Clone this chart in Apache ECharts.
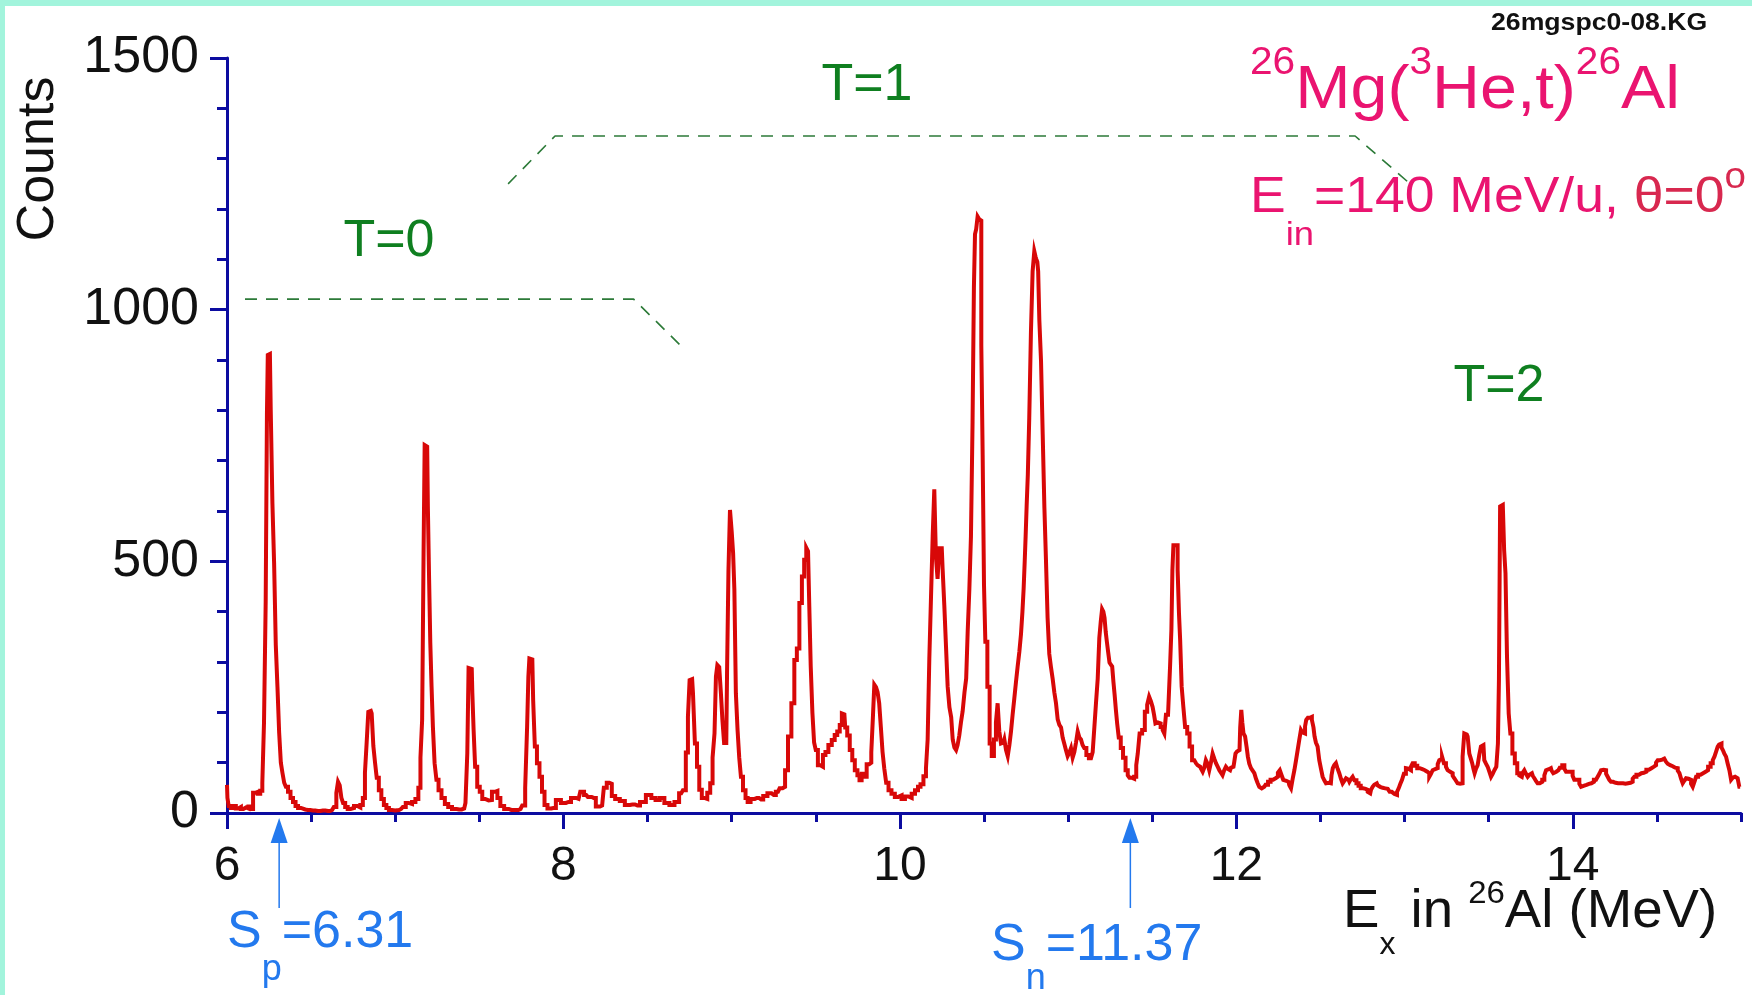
<!DOCTYPE html>
<html>
<head>
<meta charset="utf-8">
<title>26Mg(3He,t)26Al spectrum</title>
<script src="https://cdn.jsdelivr.net/npm/echarts@6/dist/echarts.min.js"></script>
<style>
  html, body { margin: 0; padding: 0; background: #ffffff; }
  #chart { position: absolute; left: 0; top: 0; width: 1752px; height: 995px; }
</style>
</head>
<body>
<div id="chart"></div>
<script>
// ---- Spectrum: [excitation energy (MeV), counts] ----
const spectrumLow = [
  [6.000,56],[6.005,30],[6.015,14],[6.030,10],[6.045,14],[6.060,9],[6.075,12],[6.090,8],[6.105,11],[6.120,9],[6.135,13],[6.150,8],
  [6.160,40],[6.175,42],[6.190,38],[6.205,44],[6.215,60],
  [6.225,180],[6.235,420],[6.240,795],[6.245,910],[6.255,912],[6.265,800],[6.275,615],[6.285,497],[6.295,334],[6.305,250],[6.315,160],
  [6.325,100],[6.335,79],[6.345,60],[6.355,52],[6.370,42],[6.385,30],[6.400,22],[6.415,14],[6.430,10],[6.450,7],[6.480,6],[6.510,5],
  [6.540,4],[6.570,5],[6.600,4],[6.625,6],[6.645,12],
  [6.655,40],[6.665,62],[6.675,55],[6.685,30],[6.695,20],[6.710,12],[6.725,8],[6.745,10],[6.765,14],[6.785,11],[6.800,16],[6.815,30],
  [6.825,80],[6.835,139],[6.845,201],[6.855,203],[6.865,198],[6.875,133],[6.885,100],[6.895,70],[6.910,45],[6.925,28],[6.940,16],
  [6.955,10],[6.970,6],[6.990,5],[7.010,6],[7.035,8],[7.055,12],[7.070,20],[7.090,18],[7.110,22],[7.130,28],[7.145,50],
  [7.155,110],[7.165,185],[7.172,516],[7.178,731],[7.190,728],[7.198,609],[7.205,463],[7.212,338],[7.220,251],[7.228,171],[7.240,99],
  [7.250,66],[7.265,45],[7.285,30],[7.305,18],[7.325,12],[7.350,8],[7.380,7],[7.410,9],[7.425,20],
  [7.432,119],[7.440,288],[7.455,286],[7.462,238],[7.470,165],[7.480,92],[7.495,52],[7.510,42],[7.525,28],[7.545,25],[7.565,26],
  [7.585,42],[7.600,44],[7.615,30],[7.635,14],[7.660,8],[7.690,6],[7.720,6],[7.745,8],[7.765,15],[7.780,50],
  [7.788,171],[7.795,271],[7.800,307],[7.815,305],[7.825,224],[7.835,132],[7.850,99],[7.865,72],[7.880,42],[7.895,16],[7.915,9],
  [7.940,10],[7.970,26]
];

const spectrumMid = [
  [8.000,20],[8.030,22],[8.060,30],[8.090,28],[8.110,42],[8.135,36],[8.155,32],[8.180,30],[8.205,13],[8.230,15],
  [8.250,50],[8.265,60],[8.280,58],[8.295,34],[8.320,28],[8.350,24],[8.380,16],[8.410,17],[8.440,15],[8.470,22],[8.510,36],
  [8.535,30],[8.560,26],[8.585,30],[8.615,20],[8.645,16],[8.675,22],[8.700,39],[8.720,45],[8.735,120],
  [8.745,191],[8.755,264],[8.765,266],[8.775,238],[8.788,138],[8.800,92],[8.815,46],[8.830,30],[8.845,28],[8.865,40],[8.880,59],
  [8.893,110],[8.903,158],[8.910,271],[8.920,294],[8.932,290],[8.940,238],[8.950,185],[8.960,139],[8.968,139],[8.977,278],
  [8.985,483],[8.995,602],[9.005,560],[9.012,517],[9.020,445],[9.030,238],[9.040,165],[9.050,110],[9.060,72],[9.075,45],[9.090,30],
  [9.100,22],[9.125,28],[9.150,30],[9.175,27],[9.200,34],[9.225,39],[9.250,36],[9.275,42],[9.295,49],[9.310,52],[9.325,85],
  [9.345,152],[9.365,218],[9.380,304],[9.395,327],[9.410,417],[9.425,470],[9.437,503],[9.450,527],[9.458,520],[9.465,410],
  [9.475,291],[9.485,199],[9.495,140],[9.505,125],[9.520,95],[9.535,92],
  [9.550,115],[9.565,121],[9.585,135],[9.605,145],[9.620,155],[9.635,162],[9.650,175],[9.660,198],[9.670,196],[9.680,170],
  [9.694,154],[9.710,125],[9.724,105],[9.740,85],[9.755,75],[9.765,65],[9.780,78],[9.795,72],[9.810,97],[9.825,100],[9.835,121],
  [9.843,186],[9.853,255],[9.863,250],[9.872,240],[9.882,218],[9.892,170],[9.902,121],[9.912,89],[9.925,60],[9.940,45],[9.960,38],
  [9.980,32]
];

const spectrumHigh = [
  [10.000,35],[10.020,28],[10.040,33],[10.060,30],[10.080,38],[10.100,45],[10.115,52],[10.130,57],[10.150,73],[10.160,89],
  [10.170,146],[10.180,307],[10.190,429],[10.200,550],[10.209,643],[10.219,510],[10.229,465],[10.239,526],[10.249,526],[10.259,485],
  [10.269,413],[10.279,332],[10.289,251],[10.300,210],[10.310,190],[10.318,146],[10.330,130],[10.338,125],[10.348,135],[10.358,154],
  [10.368,180],[10.378,202],[10.390,240],[10.398,267],[10.408,360],[10.418,445],[10.427,550],[10.437,777],[10.443,1044],[10.450,1150],
  [10.457,1160],[10.467,1185],[10.475,1180],[10.481,1177],[10.487,930],[10.497,712],[10.503,453],[10.513,340],[10.527,251],[10.540,138],
  [10.552,113],[10.566,146],[10.576,180],[10.586,218],[10.596,162],[10.606,138],[10.616,140],[10.626,146],[10.636,125],[10.646,113],
  [10.656,135],[10.665,162],[10.675,195],[10.685,227],[10.695,260],[10.705,291],[10.715,320],[10.725,356],[10.732,400],[10.739,445],
  [10.745,500],[10.750,550],[10.757,610],[10.764,672],[10.774,785],[10.784,955],[10.794,1076],[10.804,1116],[10.809,1105],[10.814,1100],
  [10.820,1095],[10.824,1076],[10.834,979],[10.844,898],[10.854,752],[10.864,607],[10.873,501],[10.883,388],[10.893,316],[10.903,290],
  [10.913,267],[10.923,240],[10.933,218],[10.943,186],[10.953,175],[10.963,170],[10.972,150],[10.982,138],[10.992,125],[11.002,113],
  [11.012,120],[11.022,129],[11.032,110],[11.042,121],[11.052,140],[11.062,162],[11.072,150],[11.081,146],[11.091,135],[11.101,129],
  [11.116,115],[11.131,109],[11.141,112],[11.151,121],[11.161,170],[11.171,220],[11.181,267],[11.190,348],[11.198,380],[11.206,405],
  [11.213,400],[11.220,388],[11.227,360],[11.234,340],[11.242,320],[11.250,299],[11.258,295],[11.266,291],[11.273,260],[11.280,235],
  [11.288,205],[11.295,178],[11.307,150],[11.319,129],[11.334,110],[11.349,85],[11.360,75],[11.370,70],[11.385,68],[11.400,72],
  [11.410,95],[11.418,118],[11.432,158],[11.448,165],[11.464,201],[11.476,215],[11.487,231],[11.497,222],[11.507,211],[11.515,195],
  [11.523,178],[11.533,180],[11.543,178],[11.557,171],[11.567,165],[11.577,158],[11.586,195],[11.602,198],[11.610,291],[11.618,364],
  [11.622,483],[11.630,532],[11.646,532],[11.656,483],[11.662,397],[11.670,344],[11.680,251],[11.690,211],[11.701,171],[11.715,158],
  [11.729,132],[11.745,105],[11.755,102],[11.765,99],[11.775,95],[11.785,92],[11.795,88],[11.805,82],[11.814,90],[11.824,105],
  [11.834,98],[11.844,85],[11.854,100],[11.864,118],[11.874,108],[11.884,99],[11.894,92],[11.904,85],[11.913,80],[11.923,75],
  [11.933,85],[11.943,92],[11.953,88],[11.963,85],[11.973,90],[11.983,92],[11.991,100]
];

const spectrumTail = [
  [11.999,118],[12.009,122],[12.019,125],[12.027,170],[12.032,205],[12.039,180],[12.046,158],[12.058,152],[12.065,130],[12.072,112],
  [12.082,98],[12.092,89],[12.102,84],[12.112,79],[12.122,68],[12.132,59],[12.141,52],[12.151,49],[12.166,52],[12.181,56],
  [12.196,62],[12.211,66],[12.226,69],[12.241,72],[12.253,80],[12.264,85],[12.274,75],[12.284,66],[12.297,64],[12.310,62],
  [12.320,55],[12.330,49],[12.340,68],[12.350,85],[12.360,105],[12.369,125],[12.379,145],[12.389,165],[12.397,160],[12.405,158],
  [12.412,172],[12.419,185],[12.431,189],[12.443,191],[12.455,185],[12.462,170],[12.468,152],[12.478,140],[12.488,132],[12.498,105],
  [12.508,88],[12.518,72],[12.528,65],[12.538,59],[12.550,60],[12.562,59],[12.570,75],[12.577,89],[12.587,95],[12.597,99],
  [12.607,88],[12.617,79],[12.627,68],[12.637,59],[12.647,64],[12.657,69],[12.667,66],[12.677,62],[12.687,68],[12.696,72],
  [12.708,65],[12.720,59],[12.733,54],[12.746,49],[12.761,48],[12.776,46],[12.786,42],[12.796,39],[12.805,46],[12.815,52],
  [12.825,56],[12.835,59],[12.845,55],[12.855,52],[12.870,50],[12.885,49],[12.895,48],[12.905,46],[12.918,42],[12.930,39],
  [12.940,38],[12.950,36],[12.960,42],[12.970,49],[12.980,58],[12.990,66],[13.002,78],[13.014,89],[13.024,88],[13.033,85],
  [13.043,92],[13.053,99],[13.068,94],[13.083,89],[13.098,87],[13.113,85],[13.128,82],[13.142,79],[13.152,72],[13.162,78],
  [13.172,85],[13.182,87],[13.192,89],[13.202,97],[13.211,105],[13.219,108],[13.227,112],[13.241,99],[13.251,92],[13.261,85],
  [13.271,82],[13.281,79],[13.291,74],[13.301,69],[13.310,64],[13.320,59],[13.330,58],[13.340,59],[13.350,112],[13.360,158],
  [13.370,156],[13.380,152],[13.390,118],[13.398,108],[13.406,99],[13.413,88],[13.420,79],[13.430,88],[13.439,95],[13.449,115],
  [13.459,132],[13.469,135],[13.479,105],[13.489,98],[13.499,92],[13.509,82],[13.519,72],[13.529,78],[13.539,85],[13.552,92],
  [13.558,138],[13.564,264],[13.572,609],[13.580,612],[13.588,609],[13.596,522],[13.604,476],[13.614,311],[13.624,198],[13.634,158],
  [13.648,118],[13.663,99],[13.677,79],[13.687,75],[13.697,72],[13.707,80],[13.717,85],[13.727,78],[13.737,72],[13.747,76],
  [13.757,79],[13.767,74],[13.776,69],[13.786,64],[13.796,59],[13.811,62],[13.826,66],[13.836,75],[13.846,85],[13.858,87],
  [13.870,89],[13.879,84],[13.889,79],[13.902,82],[13.915,85],[13.930,90],[13.945,95],[13.955,88],[13.965,82],[13.980,82],
  [13.994,82],[14.004,74],[14.014,66],[14.024,66],[14.034,66],[14.044,58],[14.054,52],[14.064,54],[14.074,56],[14.089,58],
  [14.103,59],[14.118,62],[14.133,66],[14.143,69],[14.153,72],[14.163,78],[14.173,85],[14.183,86],[14.193,85],[14.203,78],
  [14.212,72],[14.222,66],[14.232,62],[14.247,60],[14.262,59],[14.277,59],[14.292,59],[14.306,58],[14.321,59],[14.336,60],
  [14.351,62],[14.361,68],[14.371,72],[14.386,76],[14.401,79],[14.415,80],[14.430,82],[14.445,86],[14.460,89],[14.475,92],
  [14.490,95],[14.500,100],[14.510,105],[14.525,106],[14.539,108],[14.549,105],[14.559,102],[14.569,98],[14.579,95],[14.589,93],
  [14.599,92],[14.609,90],[14.619,89],[14.629,84],[14.639,79],[14.649,68],[14.658,59],[14.668,64],[14.678,69],[14.688,68],
  [14.698,66],[14.708,58],[14.718,52],[14.728,62],[14.738,72],[14.752,76],[14.767,79],[14.782,82],[14.797,85],[14.812,92],
  [14.827,99],[14.837,105],[14.847,112],[14.857,122],[14.866,132],[14.873,136],[14.880,138],[14.888,130],[14.896,125],[14.906,118],
  [14.916,112],[14.926,98],[14.936,85],[14.946,66],[14.955,70],[14.965,72],[14.975,69],[14.985,66],[14.995,52]
];

// Axis ticks
const xMajorTicks = [6, 8, 10, 12, 14];
const yMajorTicks = [0, 500, 1000, 1500];

// Isospin group brackets, in (MeV, counts)
const bracketT0 = [[6.107, 1021], [8.417, 1021], [8.723, 920]];
const bracketT1 = [[7.671, 1250], [7.950, 1345], [12.706, 1345], [13.033, 1250]];

// Particle separation energies (MeV)
const separationEnergies = [
  { particle: 'p', value: 6.31 },
  { particle: 'n', value: 11.37 }
];

// ---- Drawing ----
const FONT = '"Liberation Sans", Arial, Helvetica, sans-serif';
const AXIS_BLUE = '#0c0ca0';
const SPEC_RED = '#d80808';
const T_GREEN = '#0f7f20';
const S_BLUE = '#2379ee';
const PINK = '#ea1470';
const PINK_DARK = '#d8284f';

const spectrum = spectrumLow.concat(spectrumMid, spectrumHigh, spectrumTail);

const chart = echarts.init(document.getElementById('chart'), null, { renderer: 'canvas' });

const tickStyle = { color: AXIS_BLUE, width: 3 };
const plainNumber = function (v) { return String(v); };

chart.setOption({
  animation: false,
  backgroundColor: '#ffffff',
  grid: { left: 227, right: 11, top: 58, bottom: 182, containLabel: false },
  xAxis: [
    {
      type: 'value', min: 6, max: 15, interval: 0.5, position: 'bottom',
      axisLine: { show: true, onZero: false, lineStyle: { color: AXIS_BLUE, width: 3 } },
      axisTick: { show: true, length: 9, lineStyle: tickStyle },
      axisLabel: { customValues: xMajorTicks, formatter: plainNumber, margin: 30, color: '#111', fontSize: 48, fontFamily: FONT },
      splitLine: { show: false }
    },
    {
      type: 'value', min: 6, max: 15, position: 'bottom',
      axisLine: { show: false },
      axisTick: { show: true, customValues: xMajorTicks, length: 16, lineStyle: tickStyle },
      axisLabel: { show: false },
      splitLine: { show: false }
    }
  ],
  yAxis: [
    {
      type: 'value', min: 0, max: 1500, interval: 100, position: 'left',
      axisLine: { show: true, onZero: false, lineStyle: { color: AXIS_BLUE, width: 3 } },
      axisTick: { show: true, length: 10, lineStyle: tickStyle },
      axisLabel: { customValues: yMajorTicks, formatter: plainNumber, margin: 28, color: '#111', fontSize: 52, fontFamily: FONT },
      splitLine: { show: false }
    },
    {
      type: 'value', min: 0, max: 1500, position: 'left',
      axisLine: { show: false },
      axisTick: { show: true, customValues: yMajorTicks, length: 17, lineStyle: tickStyle },
      axisLabel: { show: false },
      splitLine: { show: false }
    }
  ],
  series: [
    {
      name: 'T=0 group', type: 'line', xAxisIndex: 0, yAxisIndex: 0,
      data: bracketT0, symbol: 'none', silent: true, z: 2,
      lineStyle: { color: '#2c7a38', width: 1.6, type: [12, 9] }
    },
    {
      name: 'T=1 group', type: 'line', xAxisIndex: 0, yAxisIndex: 0,
      data: bracketT1, symbol: 'none', silent: true, z: 2,
      lineStyle: { color: '#2c7a38', width: 1.6, type: [12, 9] }
    },
    {
      name: 'Counts', type: 'line', xAxisIndex: 0, yAxisIndex: 0,
      data: spectrum, step: 'middle', symbol: 'none', showSymbol: false,
      sampling: null, z: 3,
      lineStyle: { color: SPEC_RED, width: 4, join: 'miter' }
    }
  ]
});

// ---- Annotations ----
const elements = [];

// light frame strips on the top and left edges
elements.push({ type: 'rect', shape: { x: 0, y: 0, width: 1752, height: 6 }, style: { fill: '#a2f4dc' }, z: 0, silent: true });
elements.push({ type: 'rect', shape: { x: 0, y: 0, width: 5, height: 995 }, style: { fill: '#a2f4dc' }, z: 0, silent: true });

function text(x, y, str, opts) {
  return Object.assign({
    type: 'text', x: x, y: y, z: 100, silent: true,
    style: Object.assign({ text: str, fontFamily: FONT }, opts.style)
  }, opts.el || {});
}

// rich-text run: every run hangs from the line top, pushed down by its own top padding
function run(size, padTop, color) {
  return { fontSize: size, verticalAlign: 'top', padding: [padTop, 0, 0, 0], fill: color, fontFamily: FONT };
}

// y-axis title
elements.push(text(39, 159, 'Counts', {
  el: { rotation: Math.PI / 2 },
  style: { fontSize: 52, fill: '#111', align: 'center', verticalAlign: 'middle' }
}));

// file tag
elements.push(text(1491, 23, '26mgspc0-08.KG', {
  el: { scaleX: 1.11 },
  style: { fontSize: 24, fontWeight: 'bold', fill: '#111', align: 'left', verticalAlign: 'middle' }
}));

// reaction title
elements.push(text(1250, 40, '{s|26}{m|Mg(}{s|3}{m|He,t)}{s|26}{m|Al}', {
  el: { scaleX: 1.07 },
  style: {
    align: 'left', verticalAlign: 'top',
    rich: { m: run(62, 19.5, PINK), s: run(38, 5, PINK) }
  }
}));

// beam energy and angle
elements.push(text(1250, 155, '{m|E}{b|in}{m|=140 MeV/u, }{t|\u03b8=0}{d|o}', {
  el: { scaleX: 1.07 },
  style: {
    align: 'left', verticalAlign: 'top',
    rich: { m: run(50, 18.5, PINK), b: run(34, 64, PINK), t: run(50, 18.5, PINK_DARK), d: run(36, 5, PINK_DARK) }
  }
}));

// isospin labels
elements.push(text(867, 86, 'T=1', { style: { fontSize: 52, fill: T_GREEN, align: 'center', verticalAlign: 'middle' } }));
elements.push(text(389, 242, 'T=0', { style: { fontSize: 52, fill: T_GREEN, align: 'center', verticalAlign: 'middle' } }));
elements.push(text(1499, 387, 'T=2', { style: { fontSize: 52, fill: T_GREEN, align: 'center', verticalAlign: 'middle' } }));

// x-axis title
elements.push(text(1343, 870, '{m|E}{b|x}{m| in }{s|26}{m|Al (MeV)}', {
  el: { scaleX: 1.03 },
  style: {
    align: 'left', verticalAlign: 'top',
    rich: { m: run(53, 16, '#111'), b: run(31, 60, '#111'), s: run(32, 8, '#111') }
  }
}));

// separation-energy arrows, placed at their values on the energy axis
const y0 = chart.convertToPixel({ yAxisIndex: 0 }, 0);
const sepLabelPos = { p: [227, 900], n: [991, 910] };
const sepPad = { p: [7, 52], n: [9.5, 51] };
separationEnergies.forEach(function (s) {
  const px = chart.convertToPixel({ xAxisIndex: 0 }, s.value);
  elements.push({
    type: 'line', z: 90, silent: true,
    shape: { x1: px, y1: y0 + 28, x2: px, y2: y0 + 95 },
    style: { stroke: S_BLUE, lineWidth: 1.5 }
  });
  elements.push({
    type: 'polygon', z: 90, silent: true,
    shape: { points: [[px, y0 + 5], [px - 8.5, y0 + 30], [px + 8.5, y0 + 30]] },
    style: { fill: S_BLUE }
  });
  const pos = sepLabelPos[s.particle];
  const pad = sepPad[s.particle];
  elements.push(text(pos[0], pos[1], '{m|S}{b|' + s.particle + '}{m|=' + s.value.toFixed(2) + '}', {
    style: {
      align: 'left', verticalAlign: 'top',
      rich: { m: run(52, pad[0], S_BLUE), b: run(36, pad[1], S_BLUE) }
    }
  }));
});

chart.setOption({ graphic: { elements: elements } });
</script>
</body>
</html>
